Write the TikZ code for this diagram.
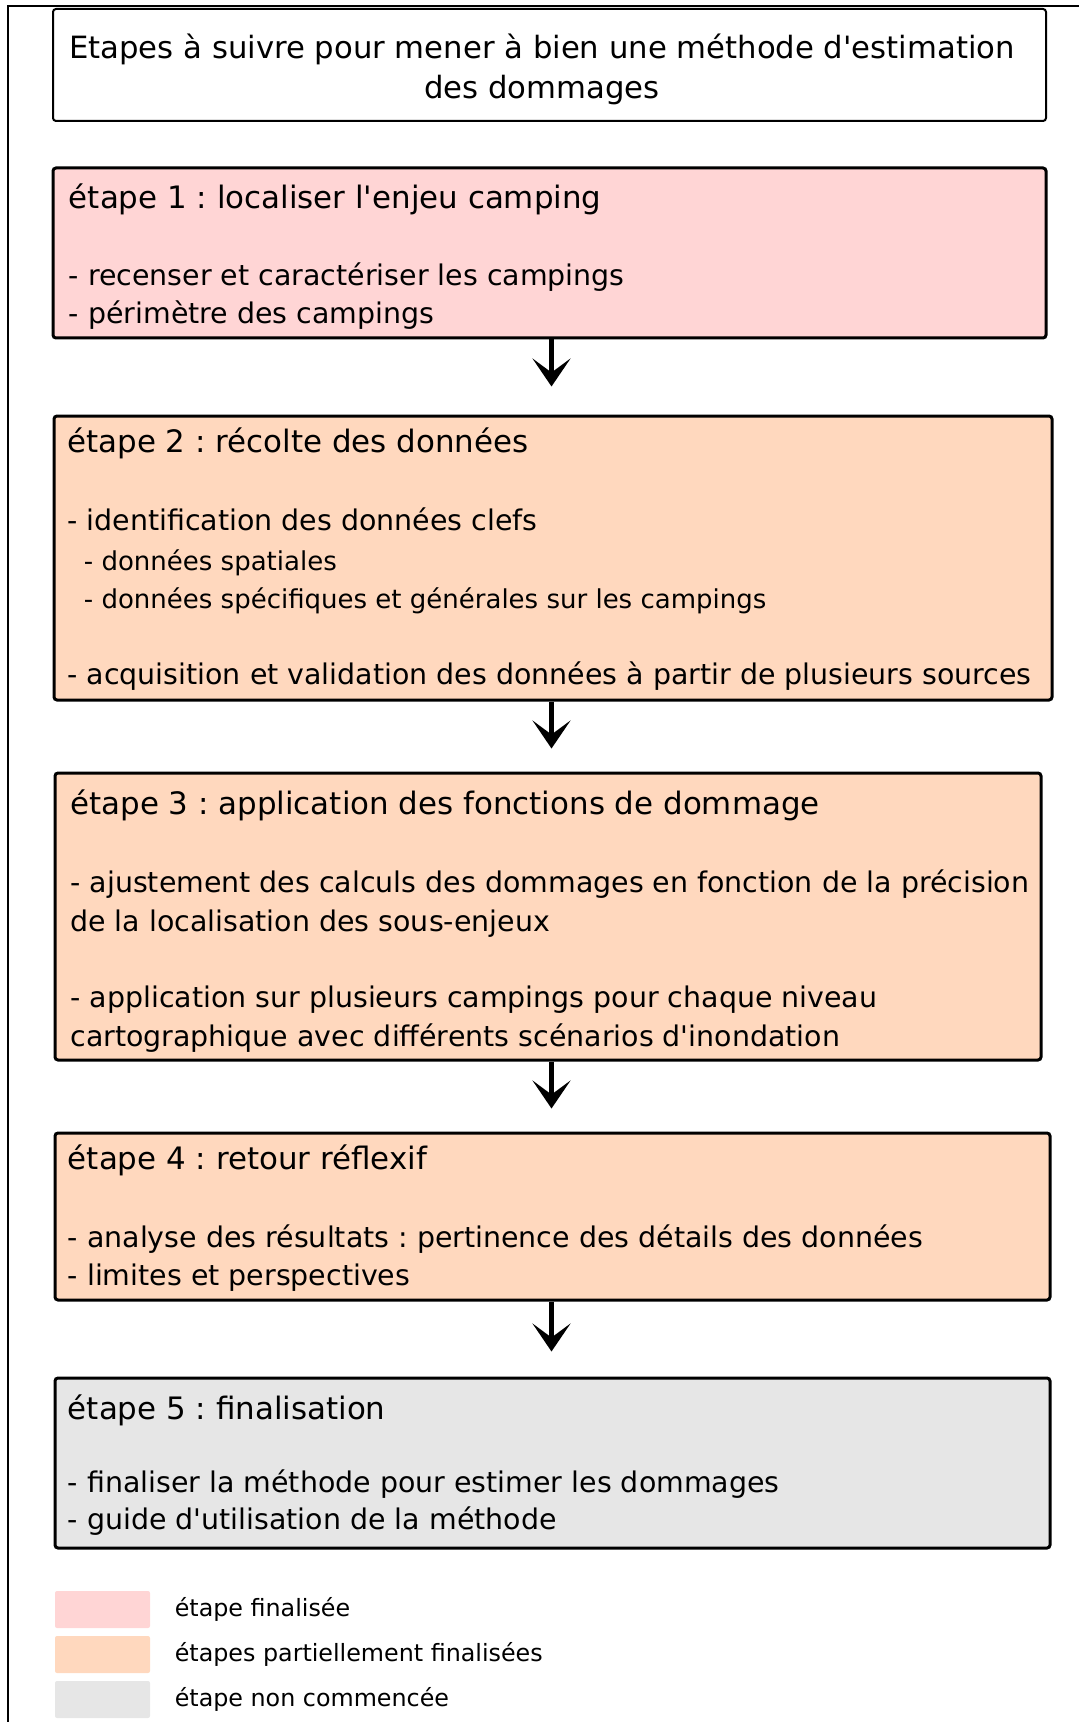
\documentclass[tikz,border=0pt]{standalone}
\usepackage{fontspec}
\setmainfont{DejaVu Sans}[Ligatures=TeXOff]
\usepackage{tikz}
\usepackage{xcolor}
\usetikzlibrary{positioning,arrows.meta,calc}
\frenchspacing

\definecolor{etapefinie}{RGB}{255,213,213}
\definecolor{etapepartielle}{RGB}{255,216,190}
\definecolor{etapeattente}{RGB}{230,230,230}

\tikzset{
    stepbox/.style={rectangle, draw, line width=1.5pt, rounded corners=1.5pt, inner sep=0pt},
    steptitle/.style={anchor=base west, inner sep=0pt, font=\fontsize{15.45}{19.2}\selectfont},
    stepline/.style={anchor=base west, inner sep=0pt, font=\fontsize{14.22}{19.2}\selectfont},
    subline/.style={anchor=base west, inner sep=0pt, font=\fontsize{13}{16}\selectfont},
    legendline/.style={inner sep=0pt, font=\fontsize{11.9}{14}\selectfont},
    swatch/.style={rectangle, rounded corners=1pt, minimum width=47.5pt, minimum height=18.5pt, inner sep=0pt},
    flow/.style={line width=2.5pt, -{Stealth[length=14pt, width=19pt, inset=7pt]}}
}

\begin{document}
\begin{tikzpicture}[x=0.5pt, y=-0.5pt]
    \useasboundingbox (0,0) rectangle (1079,1722);
    \draw[line width=1pt] (8,1722) -- (8,6) -- (1079,6);
    \node[stepbox, line width=1pt, fill=white, minimum width=496.5pt, minimum height=56pt] (titre) at (549.5,65) {};
    \node[align=center, inner sep=0pt, font=\fontsize{15.35}{19.6}\selectfont] (titretxt) at (542,69.5) {Etapes à suivre pour mener à bien une méthode d'estimation\\des dommages};
    \foreach \n/\cx/\cy/\w/\h/\col in {s1/549.5/253/496.5/85/etapefinie, s2/553/558/499/142/etapepartielle, s3/548/916.5/493/143.5/etapepartielle, s4/552.5/1216.5/497.5/83.5/etapepartielle, s5/552.5/1463/497.5/85/etapeattente} {
        \node[stepbox, fill=\col, minimum width=\w pt, minimum height=\h pt] (\n) at (\cx,\cy) {};
    }
    \foreach \x/\y/\st/\txt [count=\i] in {
        68.5/209/steptitle/{étape 1 : localiser l'enjeu camping},
        68.5/286/stepline/{- recenser et caractériser les campings},
        68.5/324/stepline/{- périmètre des campings},
        67/452/steptitle/{étape 2 : récolte des données},
        67/530/stepline/{- identification des données clefs},
        83.5/570/subline/{- données spatiales},
        83.5/608/subline/{- données spécifiques et générales sur les campings},
        67/684/stepline/{- acquisition et validation des données à partir de plusieurs sources},
        70/814/steptitle/{étape 3 : application des fonctions de dommage},
        70/892/stepline/{- ajustement des calculs des dommages en fonction de la précision},
        70/931/stepline/{de la localisation des sous-enjeux},
        70/1007/stepline/{- application sur plusieurs campings pour chaque niveau},
        70/1046/stepline/{cartographique avec différents scénarios d'inondation},
        67.5/1169/steptitle/{étape 4 : retour réflexif},
        67.5/1247/stepline/{- analyse des résultats : pertinence des détails des données},
        67.5/1285/stepline/{- limites et perspectives},
        67.5/1419/steptitle/{étape 5 : finalisation},
        67.5/1492/stepline/{- finaliser la méthode pour estimer les dommages},
        67.5/1529/stepline/{- guide d'utilisation de la méthode}} {
        \node[\st] (t\i) at (\x,\y) {\txt};
    }
    \coordinate (axe) at (551.5,0);
    \foreach \a/\b/\g in {s1/s2/14pt, s2/s3/11.5pt, s3/s4/11.5pt, s4/s5/12.5pt} {
        \draw[flow, shorten >=\g] (\a.south -| axe) -- (\b.north -| axe);
    }
    \foreach \y/\col/\txt [count=\i] in {1609.5/etapefinie/{étape finalisée}, 1654.5/etapepartielle/{étapes partiellement finalisées}, 1699.5/etapeattente/{étape non commencée}} {
        \node[swatch, fill=\col] (c\i) at (102.5,\y) {};
        \node[legendline, right=12pt of c\i, anchor=base west, yshift=-3.5pt] (l\i) {\txt};
    }
\end{tikzpicture}
\end{document}
